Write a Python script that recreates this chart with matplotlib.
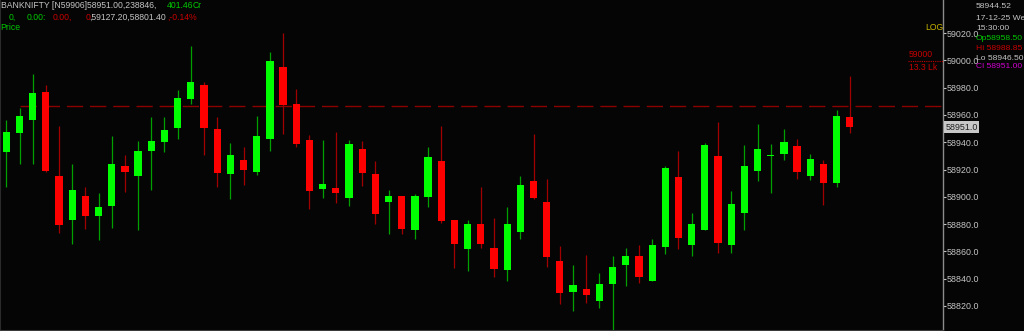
import matplotlib
matplotlib.use("Agg")
import matplotlib.pyplot as plt
import numpy as np

# ---------------- data ----------------
opens = [58932.8, 58946.7, 58956.3, 58976.6, 58915.2, 58883.0, 58900.8, 58886.2, 58893.0, 58922.3,
         58915.0, 58933.6, 58939.9, 58950.4, 58971.4, 58982.1, 58949.7, 58916.9, 58927.2, 58918.4,
         58942.1, 58995.1, 58967.8, 58941.6, 58905.5, 58906.2, 58898.9, 58934.8, 58916.7, 58896.0,
         58900.6, 58875.9, 58899.6, 58926.2, 58882.8, 58861.5, 58880.3, 58862.7, 58846.4, 58874.4,
         58911.4, 58896.2, 58853.2, 58830.5, 58832.7, 58823.4, 58836.1, 58850.0, 58856.4, 58838.1,
         58863.0, 58914.7, 58864.9, 58875.5, 58930.1, 58864.5, 58887.9, 58918.9, 58930.1, 58931.4,
         58937.2, 58915.2, 58924.2, 58910.3, 58958.5]
highs = [58956.3, 58965.1, 58990.0, 58981.9, 58951.9, 58924.0, 58907.2, 58902.8, 58944.3, 58930.6,
         58940.9, 58958.5, 58958.5, 58978.2, 59010.5, 58984.1, 58958.2, 58939.4, 58936.5, 58959.2,
         59005.9, 59020.2, 58979.0, 58945.3, 58941.6, 58947.7, 58941.6, 58941.1, 58926.2, 58905.0,
         58900.9, 58901.8, 58936.3, 58952.1, 58883.0, 58883.0, 58907.4, 58884.5, 58892.5, 58915.2,
         58946.2, 58912.8, 58864.0, 58850.3, 58857.4, 58844.0, 58856.4, 58862.5, 58864.9, 58868.9,
         58922.8, 58933.8, 58888.1, 58939.6, 58954.8, 58904.2, 58937.9, 58953.3, 58938.7, 58949.7,
         58942.6, 58931.6, 58927.0, 58963.4, 58988.85]
lows = [58907.2, 58924.0, 58924.0, 58918.5, 58873.7, 58865.4, 58876.4, 58868.4, 58877.4, 58903.3,
        58875.9, 58905.0, 58932.8, 58942.6, 58968.0, 58930.8, 58907.4, 58898.2, 58908.4, 58916.2,
        58933.8, 58946.0, 58936.5, 58890.8, 58898.9, 58895.7, 58893.5, 58907.9, 58880.1, 58873.0,
        58872.5, 58869.3, 58892.7, 58880.6, 58847.6, 58845.6, 58862.7, 58841.5, 58838.1, 58868.9,
        58898.2, 58848.8, 58821.7, 58816.6, 58822.0, 58818.3, 58801.4, 58834.9, 58836.6, 58838.1,
        58857.9, 58861.8, 58856.8, 58875.5, 58858.8, 58858.6, 58875.9, 58911.8, 58903.0, 58927.2,
        58913.3, 58912.5, 58894.0, 58907.0, 58946.5]
closes = [58947.3, 58959.2, 58976.0, 58918.9, 58879.6, 58905.2, 58886.2, 58892.3, 58924.2, 58918.4,
          58933.3, 58940.9, 58948.9, 58972.6, 58984.1, 58950.4, 58917.4, 58930.6, 58919.9, 58944.3,
          58999.3, 58967.5, 58938.5, 58904.5, 58909.4, 58903.0, 58938.7, 58917.4, 58887.6, 58900.6,
          58876.4, 58900.6, 58929.2, 58882.3, 58865.6, 58879.9, 58865.6, 58847.3, 58880.3, 58908.6,
          58899.3, 58856.1, 58829.5, 58835.2, 58828.1, 58835.9, 58848.4, 58856.4, 58841.0, 58864.5,
          58920.9, 58870.0, 58879.9, 58937.7, 58866.4, 58894.7, 58922.3, 58934.8, 58930.1, 58939.9,
          58918.4, 58927.5, 58909.9, 58959.2, 58951.0]
ref_line = 58966.5
last_price = 58951.0
yticks = [58820, 58840, 58860, 58880, 58900, 58920, 58940, 58960, 58980, 59000, 59020]

header1 = "BANKNIFTY [N59906]58951.00,238846,"
header1_val = "401.46"
info_lines = ["58944.52", "17-12-25 We", "15:30:00", "Op58958.50", "Hi 58988.85", "Lo 58946.50", "Cl 58951.00"]

# ---------------- style ----------------
W, H = 1024, 331
BG = "#050505"
GRAY = "#c4c4c4"
AXC = "#8c8c8c"
UP_BODY, UP_WICK = "#00ff00", "#00a000"
DN_BODY, DN_WICK = "#ff0000", "#a00000"
FONT = ["Liberation Sans", "DejaVu Sans"]
FS = 6.4
FS_HDR = 6.2

fig = plt.figure(figsize=(W / 100, H / 100), dpi=100, facecolor=BG)
ax = fig.add_axes([0, 1 / H, 943 / W, 330 / H], facecolor=BG)

n = len(opens)
x = np.arange(n)
o = np.array(opens); c = np.array(closes); hi = np.array(highs); lo = np.array(lows)
up = c >= o
body_w = 0.55

wick_cols = [UP_WICK if u else DN_WICK for u in up]
body_cols = [UP_BODY if u else DN_BODY for u in up]
ax.vlines(x, lo, hi, colors=wick_cols, linewidth=0.9, zorder=2)
heights = np.maximum(np.abs(c - o), 0.7)
bottoms = np.minimum(o, c)
ax.bar(x, heights, bottom=bottoms, width=body_w, color=body_cols, linewidth=0, zorder=3)

# reference dashed line
ax.plot([1, 80], [ref_line, ref_line], color="#8c0000", linewidth=1.0,
        dashes=(11.7, 5.0), zorder=1)

ax.set_xlim(-0.48, 71.07)
ax.set_ylim(58802.4, 59044.2)

for s in ["top", "right"]:
    ax.spines[s].set_visible(False)
ax.spines["left"].set_color("#2a2a2a")
ax.spines["left"].set_linewidth(0.8)
ax.spines["bottom"].set_color("#3a3a3a")
ax.spines["bottom"].set_linewidth(0.8)
ax.set_xticks([])

# right price axis
ax.yaxis.tick_right()
ax.set_yticks(yticks)
ax.set_yticklabels([f"{v:.1f}" for v in yticks], fontfamily=FONT)
ax.tick_params(axis="y", right=True, left=False, length=2.3, width=0.8, color=GRAY,
               pad=0.3, labelsize=FS, labelcolor=GRAY)
ax.plot([1, 1], [0, 1], transform=ax.transAxes, color=AXC, linewidth=1.0, clip_on=False)

# last price marker
ax.annotate(f"{last_price:.1f}", xy=(1, last_price), xycoords=("axes fraction", "data"),
            xytext=(1.8, 0), textcoords="offset points", ha="left", va="center",
            fontsize=FS, color="#202020", family=FONT,
            bbox=dict(boxstyle="square,pad=0.15", facecolor="#c8c8c8", edgecolor="none"))


def ftext(xp, yp, s, color, fs=FS_HDR, **kw):
    fig.text(xp / W, 1 - yp / H, s, color=color, fontsize=fs, va="center", ha="left",
             family=FONT, **kw)


GREEN_T = "#00c800"
RED_T = "#c80000"
MAG_T = "#d000d0"

# header (top-left)
ftext(1, 6, header1, GRAY)
ftext(167, 6, header1_val, GREEN_T)
ftext(193, 6, "Cr", GREEN_T)
ftext(9, 17, "0,", GREEN_T)
ftext(27, 17, "0.00:", GREEN_T)
ftext(53, 17, "0.00,", RED_T)
ftext(86, 17, "0", RED_T)
ftext(89.5, 17, ",59127.20,58801.40", GRAY)
ftext(167, 17, ",-0.14%", RED_T)
ftext(0, 27, "Price", GREEN_T)

# info box (top-right)
info_cols = [GRAY, GRAY, GRAY, GREEN_T, RED_T, GRAY, MAG_T]
info_y = [6, 18.5, 28.5, 38, 48, 58, 67]
for s, col, yp in zip(info_lines, info_cols, info_y):
    ftext(976, yp, s, col, fs=6.1)

# LOG marker and level
ftext(925, 27, "LOG", "#c8b400")
ftext(909, 54.5, "59000", RED_T)
ftext(909, 67, "13.3 Lk", RED_T)
fig.add_artist(plt.Line2D([908 / W, 943 / W], [1 - 61 / H, 1 - 61 / H], color=RED_T,
                          linewidth=0.8, linestyle=(0, (1, 1))))

fig.savefig("out.png", dpi=100, facecolor=BG)
